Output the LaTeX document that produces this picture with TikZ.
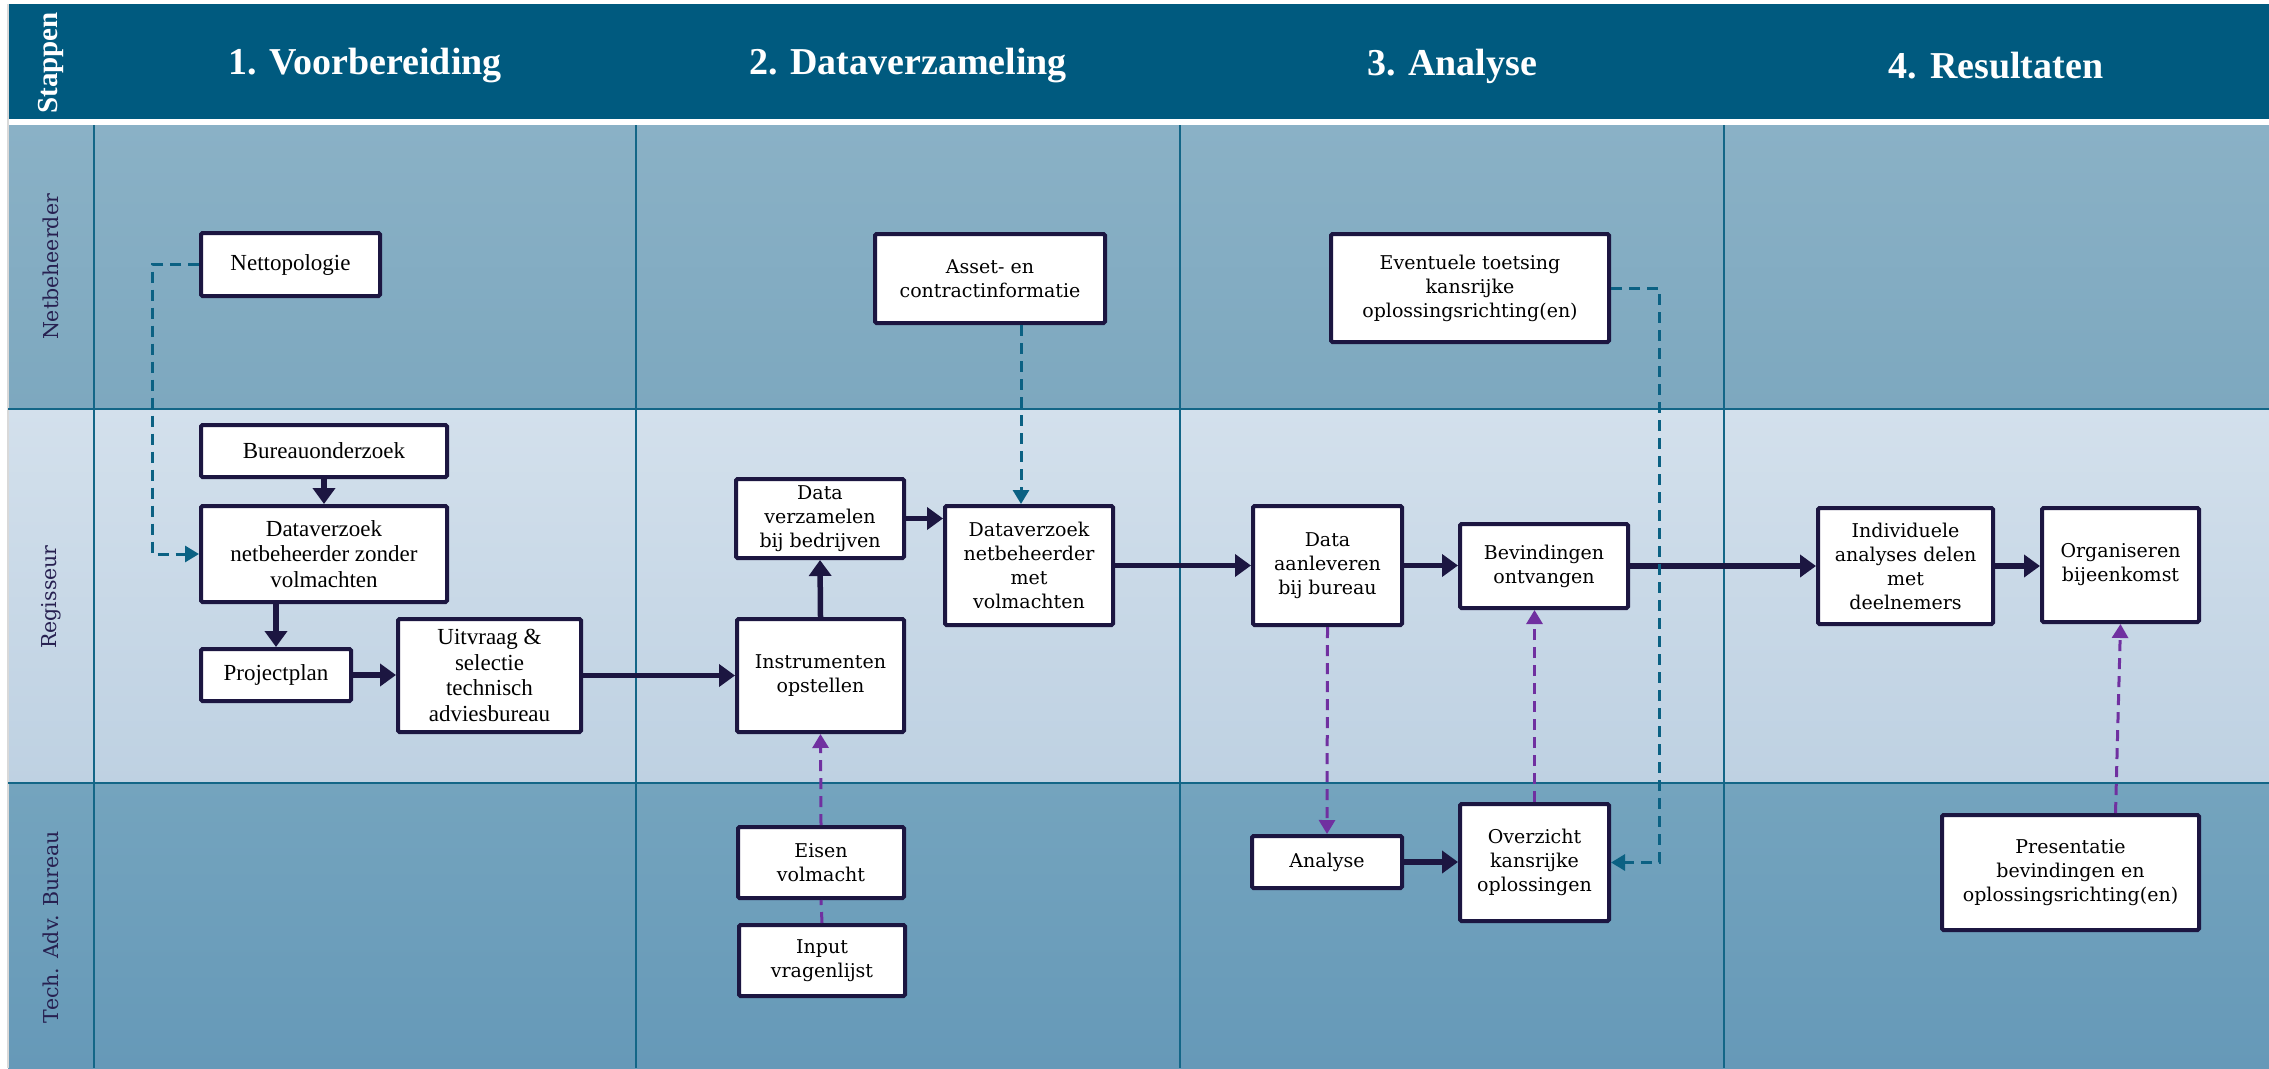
\documentclass[tikz,border=0pt]{standalone}
\usepackage{fontspec}
\setmainfont{DejaVu Serif}
\newfontfamily\tms{Liberation Serif}
\usetikzlibrary{arrows.meta,calc}
\definecolor{hdr}{HTML}{005A7F}
\definecolor{nbT}{HTML}{8AB1C6}
\definecolor{nbB}{HTML}{7DA8BF}
\definecolor{rgT}{HTML}{D3E0EC}
\definecolor{rgB}{HTML}{BED1E2}
\definecolor{tcT}{HTML}{74A4BE}
\definecolor{tcB}{HTML}{6699B8}
\definecolor{gridc}{HTML}{136687}
\definecolor{navy}{HTML}{1C1641}
\definecolor{tealc}{HTML}{0B6183}
\definecolor{purp}{HTML}{7030A0}
\definecolor{lbl}{HTML}{272050}
\begin{document}
\begin{tikzpicture}[x=1pt,y=-1pt,
  box/.style={draw=navy, line width=4pt, fill=white, rounded corners=1.5pt, inner sep=0pt, align=center, text=black},
  bA/.style={box, font=\tms\fontsize{23}{25.5}\selectfont},
  bB/.style={box, font=\fontsize{19}{24}\selectfont},
  flow/.style={draw=navy, line width=5.5pt, -{Triangle[length=16pt,width=22pt]}},
  tdash/.style={draw=tealc, line width=3pt, dash pattern=on 11pt off 7pt, -{Triangle[length=14pt,width=16pt]}},
  pdash/.style={draw=purp, line width=3pt, dash pattern=on 11pt off 7pt, -{Triangle[length=14pt,width=16pt]}},
  pline/.style={draw=purp, line width=3pt, dash pattern=on 11pt off 7pt},
  hdrtxt/.style={text=white, font=\tms\bfseries\fontsize{38}{40}\selectfont},
  lanetxt/.style={rotate=90, text=lbl, font=\fontsize{20.5}{22}\selectfont},
  grid/.style={draw=gridc, line width=2pt}
]
\useasboundingbox (0,0) rectangle (2269,1068);
\fill[white] (0,0) rectangle (2269,1068);
% header
\fill[hdr] (8,4) rectangle (2269,119);
% lanes
\shade[top color=nbT,bottom color=nbB] (8,125) rectangle (2269,409);
\shade[top color=rgT,bottom color=rgB] (8,409) rectangle (2269,783);
\shade[top color=tcT,bottom color=tcB] (8,783) rectangle (2269,1068);
\draw[black!15, line width=1.5pt] (8,4) -- (8,1068);
\draw[grid] (8,409) -- (2269,409);
\draw[grid] (8,783) -- (2269,783);
\foreach \xx in {94,636,1180,1724} { \draw[grid] (\xx,125) -- (\xx,1068); }
% header texts
\node[rotate=90, text=white, font=\tms\bfseries\fontsize{29}{31}\selectfont] (stap) at (51,63) {Stappen};
\node[hdrtxt] (h1) at (365,66) {1. Voorbereiding};
\node[hdrtxt] (h2) at (908,66) {2. Dataverzameling};
\node[hdrtxt] (h3) at (1452,66) {3. Analyse};
\node[hdrtxt] (h4) at (1996,66) {4. Resultaten};
% lane labels
\node[lanetxt] (l1) at (51,267) {Netbeheerder};
\node[lanetxt] (l2) at (51,597) {Regisseur};
\node[lanetxt] (l3) at (51,927) {Tech. Adv. Bureau};
% boxes column 1
\node[bA, minimum width=179pt, minimum height=63pt] (netto) at (290.5,264.5) {Nettopologie};
\node[bA, minimum width=246pt, minimum height=52pt] (bureau) at (324,451) {Bureauonderzoek};
\node[bA, minimum width=246pt, minimum height=96pt] (dvz) at (324,554) {Dataverzoek\\netbeheerder zonder\\volmachten};
\node[bA, minimum width=150pt, minimum height=52pt] (proj) at (276,675) {Projectplan};
\node[bA, minimum width=183pt, minimum height=113pt] (uitv) at (489.5,675.5) {Uitvraag \&\\selectie\\technisch\\adviesbureau};
% column 2
\node[bB, minimum width=230pt, minimum height=89pt] (asset) at (990,278.5) {Asset- en\\contractinformatie};
\node[bB, minimum width=168pt, minimum height=79pt] (dverz) at (820,518.5) {Data\\verzamelen\\bij bedrijven};
\node[bB, minimum width=168pt, minimum height=119pt] (dvm) at (1029,565.5) {Dataverzoek\\netbeheerder\\met\\volmachten};
\node[bB, minimum width=167pt, minimum height=113pt] (instr) at (820.5,675.5) {Instrumenten\\opstellen};
\node[bB, minimum width=166pt, minimum height=71pt] (eisen) at (821,862.5) {Eisen\\volmacht};
\node[bB, minimum width=166pt, minimum height=71pt] (input) at (822,960.5) {Input\\vragenlijst};
% column 3
\node[bB, minimum width=278pt, minimum height=108pt] (event) at (1470,288) {Eventuele toetsing\\kansrijke\\oplossingsrichting(en)};
\node[bB, minimum width=149pt, minimum height=119pt] (aanl) at (1327.5,565.5) {Data\\aanleveren\\bij bureau};
\node[bB, minimum width=168pt, minimum height=84pt] (bevind) at (1544,566) {Bevindingen\\ontvangen};
\node[bB, minimum width=150pt, minimum height=52pt] (analyse) at (1327,862) {Analyse};
\node[bB, minimum width=149pt, minimum height=117pt] (overz) at (1534.5,862.5) {Overzicht\\kansrijke\\oplossingen};
% column 4
\node[bB, minimum width=175pt, minimum height=116pt] (indiv) at (1905.5,566) {Individuele\\analyses delen\\met\\deelnemers};
\node[bB, minimum width=157pt, minimum height=114pt] (organ) at (2120.5,565) {Organiseren\\bijeenkomst};
\node[bB, minimum width=257pt, minimum height=115pt] (pres) at (2070.5,872.5) {Presentatie\\bevindingen en\\oplossingsrichting(en)};
% solid flows
\draw[flow] (bureau.south) -- (dvz.north);
\draw[flow] (dvz.south -| proj.north) -- (proj.north);
\draw[flow] (proj.east) -- (proj.east -| uitv.west);
\draw[flow] (uitv.east) -- (uitv.east -| instr.west);
\draw[flow] (instr.north) -- (dverz.south);
\draw[flow] (dverz.east) -- (dverz.east -| dvm.west);
\draw[flow] (dvm.east) -- (dvm.east -| aanl.west);
\draw[flow] (aanl.east) -- (aanl.east -| bevind.west);
\draw[flow] (bevind.east) -- (bevind.east -| indiv.west);
\draw[flow] (indiv.east) -- (indiv.east -| organ.west);
\draw[flow] (analyse.east) -- (analyse.east -| overz.west);
% teal dashed
\draw[tdash] (netto.west) -- ++(-47,0) |- (dvz.west);
\draw[tdash] ([xshift=-8pt]asset.south -| dvm.north) -- ([xshift=-8pt]dvm.north);
\draw[tdash] (event.east) -- ++(48,0) |- (overz.east);
% purple dashed
\draw[pline] (input.north) -- (eisen.south);
\draw[pdash] (eisen.north) -- (instr.south);
\draw[pdash] (aanl.south) -- (analyse.north);
\draw[pdash] (overz.north) -- (overz.north |- bevind.south);
\draw[pdash] ([xshift=-5pt]pres.north -| organ.south) -- (organ.south);
\end{tikzpicture}
\end{document}
